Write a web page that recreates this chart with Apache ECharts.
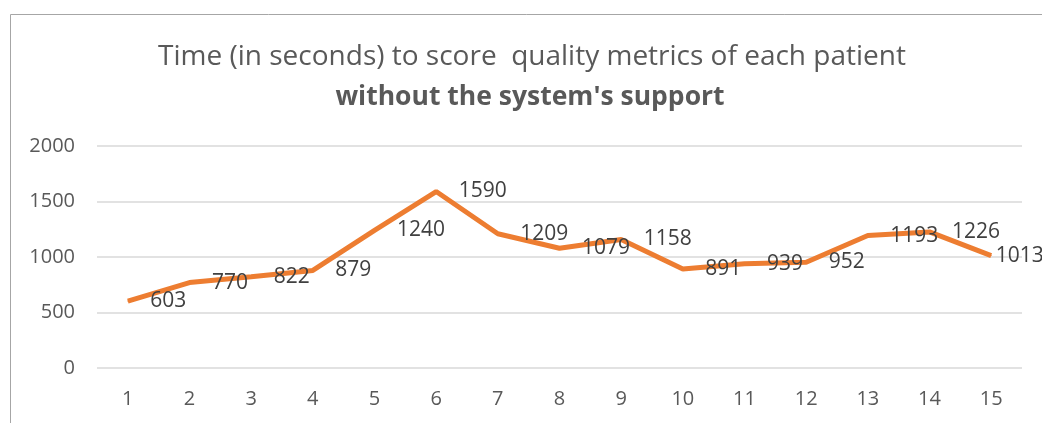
<!DOCTYPE html>
<html>
<head>
<meta charset="utf-8">
<script src="https://cdn.jsdelivr.net/npm/echarts@6/dist/echarts.min.js"></script>
<style>
  html, body { margin: 0; padding: 0; background: #fff; }
  #chart { width: 1042px; height: 423px; }
</style>
</head>
<body>
<div id="chart"></div>
<script>
// patient number and time in seconds
const patients = ['1', '2', '3', '4', '5', '6', '7', '8', '9', '10', '11', '12', '13', '14', '15']
const seconds = [603, 770, 822, 879, 1240, 1590, 1209, 1079, 1158, 891, 939, 952, 1193, 1226, 1013]
const yTicks = [0, 500, 1000, 1500, 2000]

const titleLine1 = 'Time (in seconds) to score  quality metrics of each patient'
const titleLine2 = "without the system's support"

let myChart = echarts.init(document.getElementById('chart'))

// last label sits closer to its point (it runs off the right edge)
let lineData = seconds.map((v, i) =>
  i === seconds.length - 1 ? { value: v, label: { distance: 4 } } : v
)

let option = {
  animation: false,
  textStyle: { fontFamily: 'Open Sans' },
  graphic: [
    {
      // chart frame, cut off at the right and bottom
      type: 'rect',
      shape: { x: 10.5, y: 14.5, width: 1200, height: 600 },
      style: { fill: 'none', stroke: '#a6a6a6', lineWidth: 1 }
    },
    {
      type: 'text',
      x: 532,
      y: 57,
      style: {
        text: titleLine1,
        fill: '#595959',
        font: '28px "Open Sans"',
        textAlign: 'center',
        textVerticalAlign: 'middle'
      }
    },
    {
      type: 'text',
      x: 530,
      y: 97,
      style: {
        text: titleLine2,
        fill: '#595959',
        font: 'bold 26.5px "Open Sans"',
        textAlign: 'center',
        textVerticalAlign: 'middle'
      }
    }
  ],
  grid: {
    left: 97,
    right: 20,
    top: 146,
    bottom: 55
  },
  xAxis: {
    type: 'category',
    data: patients,
    boundaryGap: true,
    axisLine: { show: false },
    axisTick: { show: false },
    axisLabel: { color: '#595959', fontSize: 20, margin: 21 }
  },
  yAxis: {
    type: 'value',
    min: yTicks[0],
    max: yTicks[yTicks.length - 1],
    interval: 500,
    axisLine: { show: false },
    axisTick: { show: false },
    splitLine: { lineStyle: { color: '#d9d9d9', width: 1.5 } },
    axisLabel: {
      color: '#595959',
      fontSize: 20,
      margin: 22,
      formatter: (v) => String(v)
    }
  },
  series: [
    {
      type: 'line',
      data: lineData,
      symbol: 'circle',
      symbolSize: 1,
      itemStyle: { color: '#ed7d31' },
      lineStyle: { color: '#ed7d31', width: 5 },
      label: {
        show: true,
        position: 'right',
        distance: 22,
        color: '#404040',
        fontSize: 21
      }
    }
  ]
}

myChart.setOption(option)
</script>
</body>
</html>
